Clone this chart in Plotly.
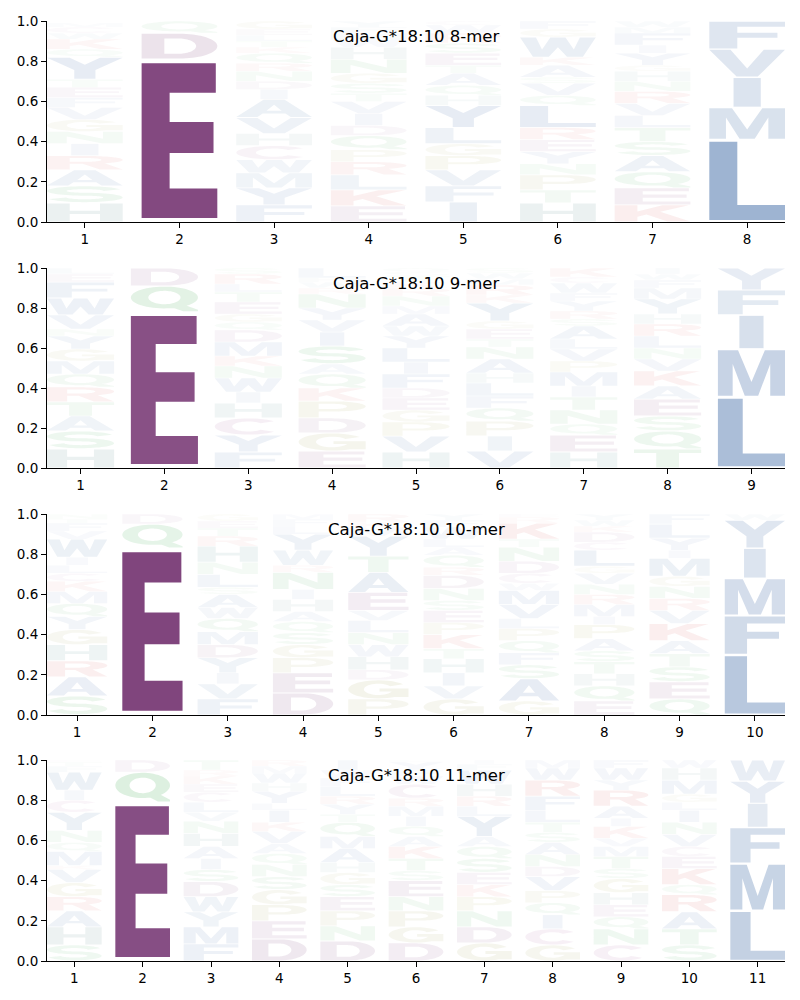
import numpy as np
import plotly.graph_objects as go

# ---------------- data (bottom -> top letter stacks, probabilities) ----------------
titles = ["Caja-G*18:10 8-mer", "Caja-G*18:10 9-mer", "Caja-G*18:10 10-mer", "Caja-G*18:10 11-mer"]

mer8_letters = ["HSARINGVFETYQKWCM", "EDQ", "FYMWCHVAIDNRQKTLEG", "EKLRPQDIVTSGNHWMFY",
                "IFVPGLYHQATESRWC", "HTPNYERLQVSAKWGF", "KEQASTLVRNHGYIFMW", "LMIVF"]
mer8_values = [[.095, .085, .08, .07, .06, .06, .06, .06, .05, .05, .04, .11, .04, .05, .03, .03, .02],
               [.81, .13, .06],
               [.085, .085, .075, .065, .07, .06, .08, .09, .05, .04, .05, .04, .05, .03, .03, .03, .03, .04],
               [.08, .08, .075, .065, .06, .07, .05, .06, .06, .04, .05, .05, .07, .06, .04, .03, .03, .03],
               [.10, .08, .08, .07, .06, .08, .11, .05, .05, .06, .04, .06, .05, .05, .04, .02],
               [.095, .065, .075, .055, .06, .06, .06, .11, .05, .06, .03, .06, .04, .10, .04, .04],
               [.085, .085, .08, .08, .07, .07, .06, .06, .06, .05, .05, .03, .06, .04, .06, .03, .03],
               [.41, .16, .15, .14, .14]]

mer9_letters = ["HSATRQMGYNVWFEL", "EQD", "FYCHIWNKMDQGETLRS", "EGDPKQASIVYNRWHL",
                "HVPGEDFILYWAMNRKTSQ", "VIPQFLHANTEGYKRMWS", "HEQNTIMPVLASRYFWCK",
                "TQSEAKVNLRHYMFWI", "LMIFY"]
mer9_values = [[.095, .09, .075, .07, .075, .065, .065, .06, .065, .035, .07, .085, .08, .04, .03],
               [.78, .13, .09],
               [.08, .085, .085, .075, .055, .07, .06, .05, .07, .06, .04, .04, .06, .05, .04, .05, .03],
               [.085, .09, .075, .085, .065, .07, .05, .09, .07, .06, .06, .07, .03, .03, .02, .05],
               [.08, .08, .07, .06, .06, .05, .07, .06, .07, .06, .05, .06, .04, .05, .04, .03, .03, .02, .02],
               [.085, .075, .075, .065, .06, .065, .05, .07, .06, .04, .05, .04, .09, .04, .05, .03, .03, .025],
               [.08, .085, .055, .07, .065, .055, .07, .055, .06, .05, .065, .035, .04, .05, .04, .05, .03, .045],
               [.095, .09, .075, .085, .065, .075, .06, .055, .06, .06, .05, .075, .055, .04, .03, .03],
               [.355, .24, .17, .125, .11]]

mer10_letters = ["SARHGYQMKCLIWVFTN", "EQD", "FVIYDMQWASLNHRTEG", "DEPGSQAHINRWYLFM",
                 "PGDHWNLVEATYMKR", "GVIHTKPESNDRQALWFY", "GASFQPLVMWCDNTKRE",
                 "EQHTSAPIMRNVGLCDKWY", "QESTAKVRNGMIYLF", "LFMIYW"]
mer10_values = [[.095, .095, .08, .08, .075, .065, .065, .06, .05, .04, .04, .04, .09, .04, .04, .02, .025],
                [.83, .12, .05],
                [.08, .075, .055, .075, .065, .065, .065, .055, .065, .035, .065, .06, .08, .05, .04, .035, .035],
                [.11, .10, .075, .065, .06, .055, .05, .06, .05, .085, .035, .075, .08, .04, .035, .025],
                [.08, .095, .05, .065, .06, .06, .06, .05, .09, .10, .08, .10, .04, .03, .04],
                [.08, .065, .065, .07, .05, .07, .06, .06, .05, .06, .065, .04, .06, .04, .04, .06, .035, .03],
                [.07, .11, .07, .06, .06, .06, .05, .07, .07, .035, .05, .06, .07, .04, .08, .03, .015],
                [.07, .075, .06, .06, .055, .06, .07, .04, .06, .05, .05, .055, .035, .08, .04, .05, .03, .03, .03],
                [.08, .085, .075, .065, .065, .085, .065, .06, .06, .05, .09, .04, .06, .07, .05],
                [.30, .195, .185, .15, .14, .03]]

mer11_letters = ["SHARGVKMQNYCIWFTE", "EQD", "FMYWDSIAHNVLCEKRT", "DEPGSNQAVKILYHWMR",
                 "DNPESGHAMQTYRLFWI", "DGPNESTKAQIMRCWFYL", "GDNPKESQAYLRHWFI",
                 "GCIQPVDNASTLFRWM", "CNQEHGSTMVKIARYWF", "STARQKECVNILGMHW", "LMFIYW"]
mer11_values = [[.08, .09, .08, .07, .07, .065, .02, .07, .045, .06, .09, .06, .05, .09, .03, .02, .01],
                [.79, .15, .06],
                [.085, .085, .075, .075, .075, .06, .055, .06, .065, .06, .045, .05, .05, .04, .04, .03, .05],
                [.11, .09, .08, .075, .065, .06, .055, .05, .06, .045, .06, .035, .06, .04, .05, .035, .03],
                [.10, .075, .075, .07, .06, .06, .05, .07, .06, .07, .04, .05, .04, .05, .04, .04, .05],
                [.09, .08, .08, .07, .08, .05, .06, .06, .05, .05, .05, .05, .04, .07, .04, .03, .04, .01],
                [.09, .08, .08, .07, .06, .06, .07, .06, .05, .10, .05, .05, .06, .07, .03, .02],
                [.08, .08, .07, .06, .06, .07, .05, .06, .06, .05, .05, .06, .07, .08, .06, .04],
                [.08, .08, .06, .06, .06, .07, .05, .06, .05, .04, .06, .04, .06, .08, .05, .06, .04],
                [.08, .08, .085, .085, .05, .08, .06, .05, .06, .06, .06, .04, .04, .07, .06, .04],
                [.25, .235, .18, .12, .11, .105]]

panels = [(mer8_letters, mer8_values), (mer9_letters, mer9_values),
          (mer10_letters, mer10_values), (mer11_letters, mer11_values)]

# amino-acid colours (chemistry groups)
aa_colors = {}
for a in "AVLIMFWY":
    aa_colors[a] = (19, 73, 145)
for a in "DE":
    aa_colors[a] = (102, 31, 99)
aa_colors["C"] = (140, 45, 125)
for a in "KR":
    aa_colors[a] = (205, 30, 30)
aa_colors["H"] = (20, 95, 95)
for a in "STNQ":
    aa_colors[a] = (30, 154, 50)
for a in "GP":
    aa_colors[a] = (130, 130, 25)


# ---------------- glyph outlines in a unit box ----------------
def ell(cx, cy, rx, ry, a0, a1, n=36):
    t = np.radians(np.linspace(a0, a1, n))
    return [(cx + rx * np.cos(v), cy + ry * np.sin(v)) for v in t]


def band(cx, cy, rxo, ryo, rxi, ryi, a0, a1):
    return ell(cx, cy, rxo, ryo, a0, a1) + ell(cx, cy, rxi, ryi, a1, a0)


def rect(x0, y0, x1, y1):
    return [(x0, y0), (x1, y0), (x1, y1), (x0, y1)]


def stroke(pts, wx, wy):
    p = np.array(pts)
    d = np.gradient(p, axis=0)
    nrm = np.stack([-d[:, 1], d[:, 0]], axis=1)
    nrm /= np.linalg.norm(nrm, axis=1, keepdims=True)
    left = p + nrm * [wx, wy]
    right = p - nrm * [wx, wy]
    return [tuple(v) for v in left] + [tuple(v) for v in right[::-1]]


def glyph(ch):
    O, H_ = [], []  # outer contours, holes
    if ch == "E":
        O.append([(0, 0), (1, 0), (1, .19), (.37, .19), (.37, .42), (.95, .42), (.95, .62),
                  (.37, .62), (.37, .81), (.98, .81), (.98, 1), (0, 1)])
    elif ch == "F":
        O.append([(0, 0), (.37, 0), (.37, .40), (.9, .40), (.9, .59), (.37, .59), (.37, .81),
                  (1, .81), (1, 1), (0, 1)])
    elif ch == "L":
        O.append([(0, 0), (1, 0), (1, .19), (.37, .19), (.37, 1), (0, 1)])
    elif ch == "I":
        O.append(rect(.32, 0, .68, 1))
    elif ch == "T":
        O.append([(.33, 0), (.67, 0), (.67, .81), (1, .81), (1, 1), (0, 1), (0, .81), (.33, .81)])
    elif ch == "H":
        O.append([(0, 0), (.3, 0), (.3, .41), (.7, .41), (.7, 0), (1, 0), (1, 1), (.7, 1),
                  (.7, .6), (.3, .6), (.3, 1), (0, 1)])
    elif ch == "M":
        O.append([(0, 0), (.22, 0), (.22, .7), (.40, 0), (.60, 0), (.78, .7), (.78, 0), (1, 0),
                  (1, 1), (.70, 1), (.5, .3), (.30, 1), (0, 1)])
    elif ch == "N":
        O.append([(0, 0), (.26, 0), (.26, .6), (.72, 0), (1, 0), (1, 1), (.74, 1), (.74, .4),
                  (.28, 1), (0, 1)])
    elif ch == "V":
        O.append([(.36, 0), (.64, 0), (1, 1), (.72, 1), (.5, .3), (.28, 1), (0, 1)])
    elif ch == "W":
        O.append([(.17, 0), (.38, 0), (.5, .5), (.62, 0), (.83, 0), (1, 1), (.79, 1), (.71, .38),
                  (.6, 1), (.4, 1), (.29, .38), (.21, 1), (0, 1)])
    elif ch == "Y":
        O.append([(.36, 0), (.64, 0), (.64, .42), (1, 1), (.7, 1), (.5, .66), (.3, 1), (0, 1),
                  (.36, .42)])
    elif ch == "K":
        O.append([(0, 0), (.3, 0), (.3, .3), (.42, .43), (.7, 0), (1, 0), (.6, .6), (.98, 1),
                  (.63, 1), (.3, .62), (.3, 1), (0, 1)])
    elif ch == "A":
        O.append([(0, 0), (.28, 0), (.35, .2), (.65, .2), (.72, 0), (1, 0), (.64, 1), (.36, 1)])
        H_.append([(.40, .36), (.5, .72), (.60, .36)])
    elif ch == "O":
        O.append(ell(.5, .5, .5, .5, 0, 360, 60))
        H_.append(ell(.5, .5, .24, .31, 0, 360, 60))
    elif ch == "Q":
        O.append(ell(.5, .56, .5, .44, 0, 360, 60))
        H_.append(ell(.5, .56, .24, .27, 0, 360, 60))
        O.append([(.55, .22), (.78, 0), (1, 0), (1, .06), (.76, .3)])
    elif ch == "C":
        O.append(band(.5, .5, .5, .5, .24, .31, 40, 320))
    elif ch == "G":
        O.append(band(.5, .5, .5, .5, .24, .31, 35, 350))
        O.append(rect(.52, .38, 1, .55))
        O.append(rect(.76, .08, 1, .55))
    elif ch == "D":
        O.append([(0, 0), (.5, 0)] + ell(.5, .5, .5, .5, -90, 90) + [(0, 1)])
        H_.append([(.3, .19), (.48, .19)] + ell(.48, .5, .24, .31, -90, 90) + [(.3, .81)])
    elif ch == "P":
        O.append([(0, 0), (.3, 0), (.3, .38), (.55, .38)] + ell(.55, .69, .45, .31, -90, 90) + [(0, 1)])
        H_.append([(.3, .53), (.52, .53)] + ell(.52, .69, .2, .16, -90, 90) + [(.3, .85)])
    elif ch == "R":
        O.append([(0, 0), (.3, 0), (.3, .42), (.55, .42)] + ell(.55, .71, .45, .29, -90, 90) + [(0, 1)])
        H_.append([(.3, .57), (.52, .57)] + ell(.52, .71, .2, .14, -90, 90) + [(.3, .85)])
        O.append([(.45, .45), (.7, 0), (1, 0), (.75, .47)])
    elif ch == "S":
        center = ell(.5, .71, .37, .2, 15, 270, 40) + ell(.5, .31, .37, .2, 90, -165, 44)[1:]
        O.append(stroke(center, .13, .09))
    return O, H_


def signed_area(c):
    c = np.array(c)
    x, y = c[:, 0], c[:, 1]
    return 0.5 * np.sum(x * np.roll(y, -1) - np.roll(x, -1) * y)


def oriented(ch):
    outs, holes = glyph(ch)
    res = []
    for c in outs:
        res.append(c if signed_area(c) > 0 else c[::-1])
    for c in holes:
        res.append(c if signed_area(c) < 0 else c[::-1])
    return res


glyph_cache = {}

# ---------------- figure ----------------
fig = go.Figure()
W, Hh = 800, 1000
ml, mr, mt, mb = 47, 15, 21, 39
ph = Hh - mt - mb
axes_px = [(21, 222), (268, 468), (514, 715), (760, 961)]

letter_width = 0.8
vpad = 0.05

for k, (letters, values) in enumerate(panels):
    xa = "x" if k == 0 else f"x{k + 1}"
    ya = "y" if k == 0 else f"y{k + 1}"
    for i, (lets, vals) in enumerate(zip(letters, values)):
        pos = i + 1
        base = 0.0
        for ch, p in zip(lets, vals):
            if ch not in glyph_cache:
                glyph_cache[ch] = oriented(ch)
            y0 = base + p * vpad / 2
            hgt = p * (1 - vpad)
            xs, ys = [], []
            for c in glyph_cache[ch]:
                for gx, gy in c:
                    xs.append(pos - letter_width / 2 + gx * letter_width)
                    ys.append(y0 + gy * hgt)
                xs.append(xs[-len(c)])
                ys.append(ys[-len(c)])
                xs.append(None)
                ys.append(None)
            r, g, b = aa_colors[ch]
            alpha = min(1.0, p * (0.7 + 0.3 * min(1.0, p / 0.15)))
            col = f"rgba({r},{g},{b},{alpha:.3f})"
            fig.add_trace(go.Scatter(x=xs, y=ys, mode="lines", fill="toself", fillcolor=col,
                                     line=dict(width=0, color=col, simplify=False),
                                     hoverinfo="skip", showlegend=False, xaxis=xa, yaxis=ya))
            base += p

layout = dict(width=W, height=Hh, margin=dict(l=ml, r=mr, t=mt, b=mb),
              paper_bgcolor="white", plot_bgcolor="white", showlegend=False,
              font=dict(family="DejaVu Sans", color="black", size=13))
annotations = []
for k, (letters, values) in enumerate(panels):
    n = len(letters)
    top, bot = axes_px[k]
    d0 = 1 - (bot - mt) / ph
    d1 = 1 - (top - mt) / ph
    sfx = "" if k == 0 else str(k + 1)
    layout["xaxis" + sfx] = dict(domain=[0, 1], anchor="y" + sfx, range=[0.6, n + 0.4],
                                 tickvals=list(range(1, n + 1)), ticktext=[str(v) for v in range(1, n + 1)],
                                 showline=True, linecolor="black", linewidth=1, ticks="outside",
                                 ticklen=5, tickwidth=1, tickcolor="black", showgrid=False,
                                 zeroline=False, tickfont=dict(size=13.5), fixedrange=True)
    layout["yaxis" + sfx] = dict(domain=[d0, d1], anchor="x" + sfx, range=[0, 1],
                                 tickvals=[0, .2, .4, .6, .8, 1.0],
                                 ticktext=["0.0", "0.2", "0.4", "0.6", "0.8", "1.0"],
                                 showline=True, linecolor="black", linewidth=1, ticks="outside",
                                 ticklen=5, tickwidth=1, tickcolor="black", showgrid=False,
                                 zeroline=False, tickfont=dict(size=13.5), fixedrange=True)
    annotations.append(dict(text=titles[k], xref=f"x{sfx} domain", yref=f"y{sfx} domain",
                            x=0.5, y=1, xanchor="center", yanchor="middle", yshift=-15,
                            showarrow=False, font=dict(size=16.5, color="black", family="DejaVu Sans")))
layout["annotations"] = annotations
fig.update_layout(**layout)
fig.write_html("out.html")
